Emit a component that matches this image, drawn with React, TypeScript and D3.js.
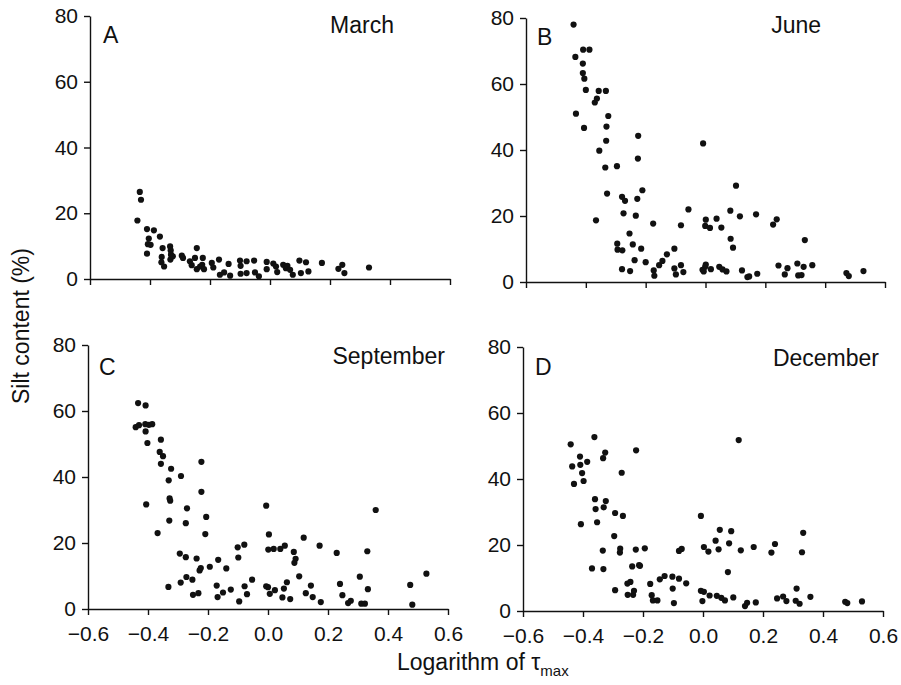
import React, { useRef, useEffect } from "react";
import * as d3 from "d3";

// log10(tau_max) and silt content (%) per month
const marchTau = [-0.442, -0.434, -0.43, -0.41, -0.41, -0.404, -0.407, -0.398, -0.387, -0.367, -0.358, -0.361, -0.362, -0.353, -0.333, -0.331, -0.33, -0.332, -0.324, -0.294, -0.29, -0.267, -0.261, -0.244, -0.25, -0.244, -0.233, -0.224, -0.226, -0.22, -0.194, -0.189, -0.17, -0.167, -0.153, -0.138, -0.133, -0.1, -0.098, -0.098, -0.078, -0.078, -0.053, -0.05, -0.037, -0.011, -0.011, 0.011, 0.02, 0.024, 0.044, 0.053, 0.058, 0.067, 0.076, 0.098, 0.103, 0.12, 0.128, 0.173, 0.228, 0.241, 0.248, 0.33];
const marchSilt = [17.8, 26.5, 24.1, 15.2, 7.7, 12.3, 10.6, 10.4, 14.8, 12.9, 9.4, 6.7, 5.1, 3.8, 9.9, 8.7, 7.4, 5.9, 6.9, 7.1, 6.4, 5.4, 4.2, 9.4, 6.4, 3.0, 3.8, 6.4, 4.3, 3.0, 4.9, 3.5, 5.9, 1.3, 2.0, 4.6, 1.0, 5.6, 4.0, 1.6, 5.4, 1.8, 5.6, 2.0, 0.8, 5.2, 3.0, 4.7, 3.8, 2.1, 4.3, 3.3, 4.0, 2.8, 1.3, 5.6, 1.8, 5.1, 2.3, 4.9, 3.1, 4.3, 1.8, 3.5];

const juneTau = [-0.441, -0.435, -0.433, -0.409, -0.388, -0.41, -0.41, -0.405, -0.4, -0.406, -0.37, -0.363, -0.357, -0.333, -0.325, -0.331, -0.332, -0.355, -0.335, -0.329, -0.366, -0.296, -0.279, -0.269, -0.274, -0.295, -0.294, -0.278, -0.279, -0.252, -0.254, -0.243, -0.237, -0.225, -0.226, -0.228, -0.211, -0.233, -0.215, -0.2, -0.175, -0.173, -0.171, -0.155, -0.144, -0.129, -0.104, -0.104, -0.099, -0.082, -0.074, -0.082, -0.057, -0.008, 0.001, -0.001, 0.015, -0.01, -0.001, 0.001, -0.006, 0.018, 0.037, 0.053, 0.046, 0.057, 0.07, 0.083, 0.102, 0.084, 0.092, 0.115, 0.122, 0.14, 0.146, 0.169, 0.173, 0.226, 0.238, 0.244, 0.265, 0.274, 0.307, 0.31, 0.321, 0.328, 0.332, 0.357, 0.471, 0.479, 0.528];
const juneSilt = [78.0, 68.2, 51.0, 70.4, 70.4, 66.2, 63.3, 61.6, 58.2, 46.7, 54.4, 55.6, 57.9, 57.9, 50.3, 47.1, 42.8, 39.8, 34.7, 26.8, 18.7, 35.1, 25.8, 24.6, 20.8, 11.6, 9.8, 9.6, 3.9, 3.3, 14.7, 11.4, 6.6, 44.3, 37.4, 25.2, 27.8, 20.1, 10.1, 6.0, 17.7, 3.5, 1.9, 5.1, 6.4, 8.4, 10.1, 4.1, 2.3, 5.1, 3.0, 17.2, 22.0, 42.0, 18.9, 17.0, 16.4, 3.7, 4.6, 5.3, 3.2, 3.9, 19.2, 16.5, 4.6, 3.8, 3.2, 21.6, 29.2, 13.1, 10.4, 19.9, 3.5, 1.5, 1.7, 20.5, 2.5, 17.4, 19.0, 5.0, 2.3, 4.2, 5.6, 2.0, 2.1, 4.6, 12.7, 5.1, 2.7, 1.8, 3.3];

const septemberTau = [-0.433, -0.408, -0.441, -0.43, -0.409, -0.397, -0.386, -0.408, -0.402, -0.406, -0.357, -0.361, -0.35, -0.357, -0.323, -0.331, -0.328, -0.326, -0.329, -0.368, -0.29, -0.27, -0.274, -0.294, -0.274, -0.332, -0.291, -0.272, -0.252, -0.25, -0.232, -0.238, -0.228, -0.224, -0.222, -0.222, -0.206, -0.209, -0.194, -0.166, -0.171, -0.168, -0.15, -0.139, -0.124, -0.101, -0.099, -0.079, -0.096, -0.078, -0.07, -0.053, -0.006, 0.003, 0.001, 0.019, 0.041, 0.056, -0.006, 0.0, 0.006, 0.023, 0.048, 0.053, 0.063, 0.074, 0.086, 0.092, 0.088, 0.104, 0.119, 0.126, 0.143, 0.149, 0.172, 0.176, 0.229, 0.24, 0.248, 0.267, 0.276, 0.306, 0.311, 0.323, 0.331, 0.333, 0.359, 0.474, 0.481, 0.528];
const septemberSilt = [62.4, 61.7, 55.1, 55.7, 56.0, 55.8, 56.0, 53.8, 50.3, 31.7, 51.3, 47.6, 46.3, 44.0, 42.5, 39.0, 33.5, 32.8, 26.8, 23.0, 40.3, 30.5, 26.0, 16.8, 15.7, 6.7, 8.0, 9.7, 8.9, 4.3, 4.8, 15.3, 11.7, 12.4, 44.6, 35.5, 27.9, 22.7, 12.8, 14.9, 7.1, 3.6, 5.0, 12.3, 5.9, 18.7, 15.6, 19.5, 2.3, 6.9, 4.5, 8.9, 31.3, 22.6, 18.0, 18.2, 18.2, 19.2, 6.9, 6.6, 4.6, 5.7, 3.5, 6.2, 8.1, 3.0, 17.3, 15.2, 14.0, 9.9, 21.6, 4.8, 7.1, 3.6, 19.2, 2.1, 17.0, 7.6, 4.2, 1.8, 2.5, 9.8, 1.6, 1.6, 17.5, 6.0, 30.0, 7.3, 1.3, 10.7];

const decemberTau = [-0.441, -0.362, -0.436, -0.43, -0.41, -0.409, -0.403, -0.398, -0.386, -0.407, -0.333, -0.326, -0.36, -0.358, -0.353, -0.331, -0.324, -0.37, -0.332, -0.334, -0.296, -0.293, -0.267, -0.271, -0.276, -0.277, -0.293, -0.252, -0.242, -0.251, -0.233, -0.23, -0.236, -0.224, -0.223, -0.213, -0.21, -0.194, -0.176, -0.171, -0.167, -0.152, -0.144, -0.128, -0.102, -0.101, -0.097, -0.08, -0.08, -0.071, -0.056, -0.007, -0.007, 0.003, -0.002, 0.003, 0.018, 0.022, 0.042, 0.056, 0.052, 0.046, 0.061, 0.073, 0.087, 0.094, 0.083, 0.101, 0.119, 0.126, 0.14, 0.147, 0.169, 0.176, 0.228, 0.24, 0.247, 0.267, 0.278, 0.312, 0.309, 0.322, 0.33, 0.334, 0.358, 0.474, 0.481, 0.53];
const decemberSilt = [50.5, 52.7, 43.8, 38.5, 46.8, 44.3, 41.8, 39.4, 45.2, 26.3, 46.3, 48.0, 33.9, 30.9, 26.9, 31.4, 33.3, 12.9, 12.7, 18.3, 22.7, 29.7, 28.8, 41.9, 18.9, 17.7, 6.3, 8.3, 8.8, 4.9, 4.9, 6.1, 13.5, 18.6, 48.7, 13.9, 13.7, 19.0, 8.2, 4.8, 3.2, 3.2, 9.6, 10.6, 10.4, 6.8, 2.4, 9.8, 18.2, 18.8, 8.4, 28.8, 6.1, 5.8, 3.0, 19.4, 18.0, 4.7, 21.3, 24.6, 18.7, 4.6, 4.0, 3.2, 20.5, 24.2, 11.8, 4.1, 51.8, 18.4, 1.5, 2.5, 19.4, 2.6, 17.7, 20.3, 3.8, 4.4, 3.0, 6.8, 3.1, 2.2, 17.8, 23.7, 4.3, 2.8, 2.4, 2.9];

const panelLetters = ["A", "B", "C", "D"];
const monthNames = ["March", "June", "September", "December"];
const xTicks = [-0.6, -0.4, -0.2, 0.0, 0.2, 0.4, 0.6];
const yTicks = [0, 20, 40, 60, 80];

const series = [
    [marchTau, marchSilt],
    [juneTau, juneSilt],
    [septemberTau, septemberSilt],
    [decemberTau, decemberSilt],
];

// pixel frame of each panel and where its labels sit
const frames = [
    { x0: 90, x1: 450, y0: 279, y1: 16, lx: 13, ly: 27, mx: 394, my: 33, xLabels: false },
    { x0: 526, x1: 885, y0: 282, y1: 18, lx: 11, ly: 27, mx: 821, my: 33, xLabels: false },
    { x0: 88, x1: 448, y0: 609, y1: 345, lx: 11, ly: 30, mx: 445, my: 364, xLabels: true },
    { x0: 523, x1: 883, y0: 611, y1: 347, lx: 12, ly: 28, mx: 879, my: 366, xLabels: true },
];

const FONT = "'Liberation Sans', Arial, Helvetica, sans-serif";

const App = () => {
    const svgRef = useRef<SVGSVGElement>(null);

    useEffect(() => {
        const svg = d3.select(svgRef.current);
        svg.selectAll("*").remove();

        frames.forEach((f, i) => {
            const x = d3.scaleLinear().domain([-0.6, 0.6]).range([f.x0, f.x1]);
            const y = d3.scaleLinear().domain([0, 80]).range([f.y0, f.y1]);
            const g = svg.append("g");

            const xAxis = d3
                .axisBottom(x)
                .tickValues(xTicks)
                .tickSizeInner(6)
                .tickSizeOuter(0)
                .tickPadding(11)
                .tickFormat(f.xLabels ? (d: any) => d3.format(".1f")(d) : () => "");
            const yAxis = d3
                .axisLeft(y)
                .tickValues(yTicks)
                .tickSizeInner(6)
                .tickSizeOuter(0)
                .tickPadding(6);

            const gx = g.append("g").attr("transform", `translate(0,${f.y0})`).call(xAxis);
            const gy = g.append("g").attr("transform", `translate(${f.x0},0)`).call(yAxis);
            [gx, gy].forEach((a) => {
                a.select(".domain").attr("stroke", "#111").attr("stroke-width", 1.4);
                a.selectAll(".tick line").attr("stroke", "#111").attr("stroke-width", 1.4);
                a.selectAll(".tick text")
                    .attr("fill", "#111")
                    .style("font-family", FONT)
                    .style("font-size", "21px");
            });

            const [tau, silt] = series[i];
            g.selectAll("circle")
                .data(tau)
                .enter()
                .append("circle")
                .attr("cx", (d) => x(d))
                .attr("cy", (d, j) => y(silt[j]))
                .attr("r", 3.1)
                .attr("fill", "#111");

            g.append("text")
                .attr("x", f.x0 + f.lx)
                .attr("y", f.y1 + f.ly)
                .style("font-family", FONT)
                .style("font-size", "23px")
                .attr("fill", "#111")
                .text(panelLetters[i]);

            g.append("text")
                .attr("x", f.mx)
                .attr("y", f.my)
                .attr("text-anchor", "end")
                .style("font-family", FONT)
                .style("font-size", "23px")
                .attr("fill", "#111")
                .text(monthNames[i]);
        });

        svg.append("text")
            .attr("transform", "translate(29,326) rotate(-90)")
            .attr("text-anchor", "middle")
            .style("font-family", FONT)
            .style("font-size", "23px")
            .attr("fill", "#111")
            .text("Silt content (%)");

        const xl = svg
            .append("text")
            .attr("x", 397)
            .attr("y", 670)
            .style("font-family", FONT)
            .style("font-size", "23px")
            .attr("fill", "#111");
        xl.append("tspan").text("Logarithm of τ");
        xl.append("tspan").attr("dy", 6).style("font-size", "15px").text("max");
    }, []);

    return (
        <svg
            ref={svgRef}
            width={901}
            height={685}
            style={{ position: "absolute", left: 0, top: 0, background: "#fff" }}
        />
    );
};

export default App;
